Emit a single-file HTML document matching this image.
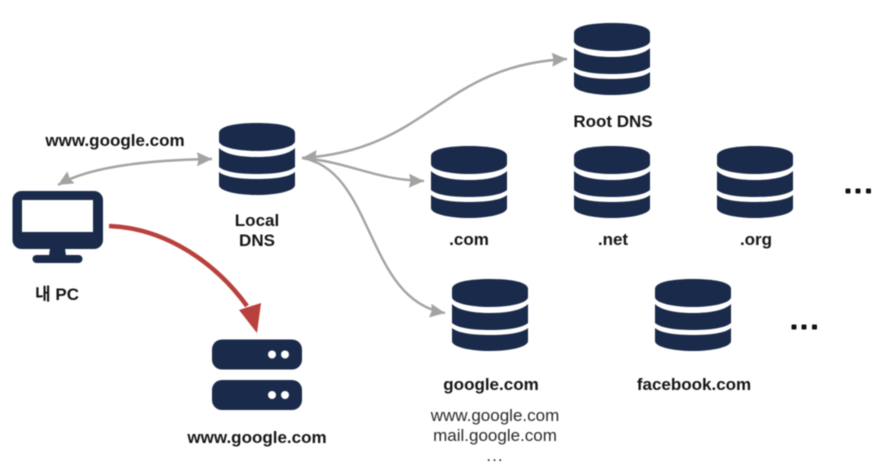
<!DOCTYPE html>
<html><head><meta charset="utf-8"><style>
html,body{margin:0;padding:0;background:#fff}
svg{display:block}
text{font-family:"Liberation Sans","Noto Sans CJK KR",sans-serif;text-anchor:middle;fill:#151515}
.b{font-weight:bold;font-size:17px}
.r{font-size:17px;fill:#2a2a2a}
</style></head><body>
<svg width="884" height="475" viewBox="0 0 884 475" xmlns="http://www.w3.org/2000/svg" style="filter:blur(0.4px)">
<defs>
<g id="db" fill="#1a2a4a">
<path d="M0 10C0 3 17 0 38 0S76 3 76 10V18C76 24 58 28 38 28S0 24 0 18Z"/>
<path d="M0 25C6 31 20 34 38 34S70 31 76 25V44C70 49 56 51 38 51S6 49 0 44Z"/>
<path d="M0 49C6 54 20 56 38 56S70 54 76 49V62C76 68 58 72 38 72S0 68 0 62Z"/>
</g>
<g id="sv" fill="#1a2a4a">
<rect x="0" y="0" width="90" height="30" rx="10"/>
<circle cx="60" cy="15" r="4" fill="#fff"/><circle cx="73" cy="15" r="4" fill="#fff"/>
</g>
<marker id="g" markerWidth="18" markerHeight="16" refX="15" refY="7" orient="auto-start-reverse" markerUnits="userSpaceOnUse"><path d="M0 0L15 7L0 14L1.5 7Z" fill="#a3a3a3"/></marker>
</defs>

<use href="#db" x="219" y="123"/>
<use href="#db" x="574" y="23"/>
<use href="#db" x="431" y="146"/>
<use href="#db" x="574" y="146"/>
<use href="#db" x="717" y="146"/>
<use href="#db" x="452" y="279"/>
<use href="#db" x="655" y="279"/>

<!-- monitor -->
<rect x="12.5" y="191" width="90.5" height="58" rx="9" fill="#1a2a4a"/>
<rect x="22" y="200" width="71" height="32" fill="#fff"/>
<path d="M50 248H65L66 256H49Z" fill="#1a2a4a"/>
<rect x="32.5" y="255" width="50" height="8" rx="4" fill="#1a2a4a"/>

<use href="#sv" x="212" y="339.500"/>
<use href="#sv" x="212" y="380"/>

<!-- connectors -->
<g fill="none" stroke="#a3a3a3" stroke-width="2.4">
<path d="M58 185C90 166 150 160 212 159" marker-start="url(#g)" marker-end="url(#g)"/>
<path d="M302 158C430 150 440 65 567 59" marker-start="url(#g)" marker-end="url(#g)"/>
<path d="M302 158C350 162 375 180 424 181" marker-end="url(#g)"/>
<path d="M302 158C375 170 365 300 445 313" marker-end="url(#g)"/>
</g>
<path d="M109 226C165 228 215 262 247 306" fill="none" stroke="#b8403d" stroke-width="4.5"/>
<path d="M239 310L261 303L257 333Z" fill="#b8403d"/>

<!-- labels -->
<text class="b" x="115" y="146">www.google.com</text>
<text class="b" x="257" y="226">Local</text>
<text class="b" x="257" y="246">DNS</text>
<text class="b" x="57" y="300">내 PC</text>
<text class="b" x="613" y="127">Root DNS</text>
<text class="b" x="469" y="245">.com</text>
<text class="b" x="613" y="245">.net</text>
<text class="b" x="756" y="245">.org</text>
<text class="b" x="491" y="390">google.com</text>
<text class="b" x="694" y="390">facebook.com</text>
<text class="b" x="257" y="443">www.google.com</text>
<text class="r" x="495" y="421">www.google.com</text>
<text class="r" x="495" y="441">mail.google.com</text>
<text class="r" x="495" y="461" style="letter-spacing:1px">...</text>
<g fill="#111">
<rect x="845.500" y="188.500" width="5" height="5" rx="1"/><rect x="855.500" y="188.500" width="5" height="5" rx="1"/><rect x="866" y="188.500" width="5" height="5" rx="1"/>
<rect x="791.500" y="324.500" width="5" height="5" rx="1"/><rect x="801.500" y="324.500" width="5" height="5" rx="1"/><rect x="812" y="324.500" width="5" height="5" rx="1"/>
</g>
</svg>
</body></html>
